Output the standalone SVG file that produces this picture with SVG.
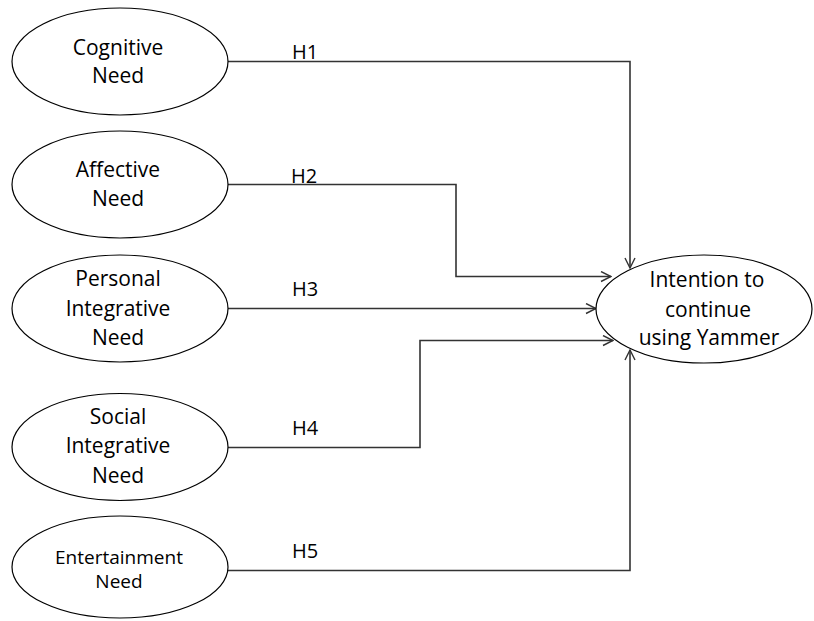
<svg xmlns="http://www.w3.org/2000/svg" width="814" height="621" viewBox="0 0 814 621">
<defs>
<style>
.node ellipse{fill:#fff;stroke:#000;stroke-width:1.2}
.lbl{font-family:"Open Sans","Liberation Sans",sans-serif;font-size:21px;fill:#000;text-anchor:middle}
.sm{font-size:19px}
.h{font-family:"Open Sans","Liberation Sans",sans-serif;font-size:20px;fill:#000}
.conn path{fill:none;stroke:#333;stroke-width:1.6;marker-end:url(#arr)}
</style>
<marker id="arr" viewBox="0 0 12 12" refX="11" refY="6" markerWidth="12" markerHeight="12" markerUnits="userSpaceOnUse" orient="auto">
<path d="M1,1 L11,6 L1,11" fill="none" stroke="#333" stroke-width="1.4"/>
</marker>
</defs>
<rect width="814" height="621" fill="#fff"/>
<g id="connectors" class="conn">
<path d="M228,61.5 H630 V268"/>
<path d="M228,184.5 H456 V276.5 H611"/>
<path d="M228,308.5 H596"/>
<path d="M228,447.5 H420 V340.5 H613"/>
<path d="M228,570.5 H630 V350"/>
</g>
<g id="labels">
<text class="h" x="292" y="59">H1</text>
<text class="h" x="291" y="183">H2</text>
<text class="h" x="292" y="296">H3</text>
<text class="h" x="292" y="435">H4</text>
<text class="h" x="292" y="558">H5</text>
</g>
<g id="cognitive" class="node">
<ellipse cx="120" cy="61.5" rx="108" ry="53.5"/>
<text class="lbl" x="118" y="55">Cognitive</text>
<text class="lbl" x="118" y="83">Need</text>
</g>
<g id="affective" class="node">
<ellipse cx="120" cy="184.5" rx="108" ry="53.5"/>
<text class="lbl" x="118" y="177">Affective</text>
<text class="lbl" x="118" y="206">Need</text>
</g>
<g id="personal" class="node">
<ellipse cx="120" cy="308.5" rx="108" ry="53.5"/>
<text class="lbl" x="118" y="286">Personal</text>
<text class="lbl" x="118" y="316">Integrative</text>
<text class="lbl" x="118" y="345">Need</text>
</g>
<g id="social" class="node">
<ellipse cx="120" cy="447" rx="108" ry="53.5"/>
<text class="lbl" x="118" y="424">Social</text>
<text class="lbl" x="118" y="453">Integrative</text>
<text class="lbl" x="118" y="483">Need</text>
</g>
<g id="entertainment" class="node">
<ellipse cx="120" cy="567" rx="108" ry="51"/>
<text class="lbl sm" x="119" y="564">Entertainment</text>
<text class="lbl sm" x="119" y="588">Need</text>
</g>
<g id="intention" class="node">
<ellipse cx="704" cy="309" rx="108" ry="54"/>
<text class="lbl" x="707" y="287">Intention to</text>
<text class="lbl" x="708" y="317">continue</text>
<text class="lbl" x="709" y="345">using Yammer</text>
</g>
</svg>
